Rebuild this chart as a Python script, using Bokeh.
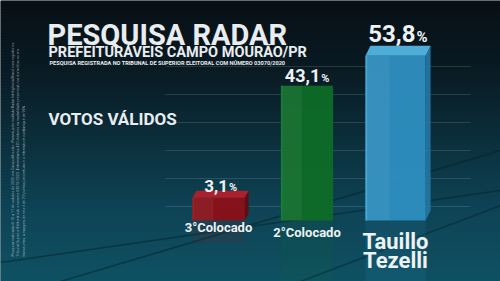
import numpy as np
from bokeh.plotting import figure
from bokeh.models import Range1d, Label, ColumnDataSource
from bokeh.core.properties import value
from bokeh.embed import file_html
from bokeh.resources import INLINE

# ---------------- data ----------------
candidates = ["3°Colocado", "2°Colocado", "Tauillo\nTezelli"]
votos = [3.1, 43.1, 53.8]
grid_values = [0, 10, 20, 30, 40, 50]
title = "PESQUISA RADAR"
subtitle = "PREFEITURÁVEIS CAMPO MOURÃO/PR"
note = "PESQUISA REGISTRADA NO TRIBUNAL DE SUPERIOR ELEITORAL COM NÚMERO 03070/2020"
section = "VOTOS VÁLIDOS"
fine_print = [
    "Pesquisa realizada de 10 a 11 de outubro de 2020 em Campo Mourão - Paraná, pelo instituto Radar Inteligência Brasil, com registro no",
    "Tribunal Superior Eleitoral sob o número 03070/2020. Entrevistados 420 eleitores na modalidade presencial, nos domicílios ou em",
    "transeuntes, a margem de erro é de 3,9 pontos percentuais e o intervalo de confiança é de 95%.",
]

# ---------------- styles ----------------
front_colors = ["#8c1017", "#0e6d27", "#2e8fc1"]
top_colors = ["#b3202a", "#15873a", "#52b6e2"]
side_colors = ["#650a0f", "#0a5a1e", "#2475a2"]
bar_widths = [0.59, 0.59, 0.68]
depth_px = [(4, 7), (0, 0), (5, 10)]
num_px = [17, 18, 24]
pct_px = [11, 11, 15]
lab_dy = [-5, -10, -12]
cat_sizes = ["13px", "13px", "22px"]
cat_offsets = [-1, 4, 8]

W, H = 500, 281
X0, DX = 218.0, 88.5     # pixel of first bar centre, pixels per category
Y0, SY = 220.0, 2.8      # pixel of bar base, pixels per percentage point
PED = 5.0                # pedestal under zero


def px_to_y(py):
    return (Y0 - py) / SY - PED


def px_to_x(px):
    return (px - X0) / DX


p = figure(width=W, height=H, x_range=Range1d(px_to_x(0), px_to_x(W)),
           y_range=Range1d(px_to_y(H), px_to_y(0)), min_border=0,
           toolbar_location=None, output_backend="svg",
           x_axis_type=None, y_axis_type=None)
p.grid.visible = False
p.outline_line_color = None
p.background_fill_color = "#0b2430"
p.border_fill_color = "#0b2430"

# background vertical gradient
stops = [(0, (8, 16, 22)), (70, (10, 27, 36)), (140, (12, 47, 60)),
         (210, (14, 68, 86)), (281, (15, 82, 100))]
sp = np.array([s[0] for s in stops], float)
sc = np.array([s[1] for s in stops], float)
band = 3
tops, bots, cols = [], [], []
for py in range(0, H, band):
    c = [int(np.interp(py + band / 2, sp, sc[:, k])) for k in range(3)]
    cols.append("#%02x%02x%02x" % tuple(c))
    tops.append(px_to_y(py))
    bots.append(px_to_y(py + band + 0.5))
p.quad(left=px_to_x(0), right=px_to_x(W), top=tops, bottom=bots,
       fill_color=cols, line_color=None)

# faint diagonal floor lines
p.segment(x0=[px_to_x(0), px_to_x(60), px_to_x(300)],
          y0=[px_to_y(262), px_to_y(281), px_to_y(281)],
          x1=[px_to_x(500), px_to_x(500), px_to_x(500)],
          y1=[px_to_y(190), px_to_y(150), px_to_y(205)],
          line_color="#06202a", line_alpha=0.5, line_width=1.5)

# horizontal streak lines
xs0 = px_to_x(165)
xs1 = px_to_x(470)
p.segment(x0=xs0, y0=grid_values, x1=xs1, y1=grid_values,
          line_color="white", line_alpha=0.13, line_width=1)

idx = list(range(len(votos)))
dxd = [d[0] / DX for d in depth_px]
dyd = [d[1] / SY for d in depth_px]

# reflections
p.vbar(x=idx, width=bar_widths, top=-PED,
       bottom=[-PED - (v + PED) for v in votos],
       fill_color=front_colors, fill_alpha=0.12, line_color=None)

# side and top faces
side_xs, side_ys, top_xs, top_ys = [], [], [], []
for i, v in enumerate(votos):
    w = bar_widths[i]
    r = i + w / 2
    l = i - w / 2
    side_xs.append([r, r + dxd[i], r + dxd[i], r])
    side_ys.append([v, v + dyd[i], -PED + dyd[i], -PED])
    top_xs.append([l, l + dxd[i], r + dxd[i], r])
    top_ys.append([v, v + dyd[i], v + dyd[i], v])
p.patches(xs=side_xs, ys=side_ys, fill_color=side_colors, fill_alpha=0.95,
          line_color=None)

src = ColumnDataSource(dict(x=idx, top=votos, w=bar_widths, c=front_colors))
p.vbar(x="x", width="w", top="top", bottom=-PED, fill_color="c",
       fill_alpha=0.95, line_color=None, source=src)
# sheen on left part of the bars
p.vbar(x=[i - bar_widths[i] * 0.3 for i in idx],
       width=[bar_widths[i] * 0.4 for i in idx], top=votos, bottom=-PED,
       fill_color="white", fill_alpha=0.05, line_color=None)
# lighter left edge for glass look
p.vbar(x=[i - bar_widths[i] / 2 + 0.01 for i in idx], width=0.02, top=votos,
       bottom=-PED, fill_color=top_colors, fill_alpha=0.6, line_color=None)

p.patches(xs=top_xs, ys=top_ys, fill_color=top_colors, fill_alpha=0.95,
          line_color=None)

# value labels (number + smaller percent sign, centred together)
nums = [("%.1f" % v).replace(".", ",") for v in votos]
num_w = [num_px[i] * (0.56 * sum(ch.isdigit() for ch in s) + 0.25)
         for i, s in enumerate(nums)]
pct_w = [s * 0.75 for s in pct_px]
lab_x = [i + dxd[i] / 2 for i in idx]
lab_y = [v + dyd[i] for i, v in enumerate(votos)]
p.text(x=lab_x, y=lab_y, text=nums, text_align="right",
       text_baseline="middle",
       x_offset=[(num_w[i] - pct_w[i]) / 2 for i in idx],
       y_offset=lab_dy, text_font=value("Roboto"), text_font_style="bold",
       text_font_size=["%dpx" % s for s in num_px], text_color="#eef2f4")
p.text(x=lab_x, y=lab_y, text=["%"] * 3, text_align="left",
       text_baseline="middle",
       x_offset=[(num_w[i] - pct_w[i]) / 2 + 1 for i in idx],
       y_offset=[lab_dy[i] + 0.36 * (num_px[i] - pct_px[i]) for i in idx],
       text_font=value("Roboto"), text_font_style="bold",
       text_font_size=["%dpx" % s for s in pct_px], text_color="#eef2f4")

# category labels
p.text(x=idx, y=-PED, text=candidates, text_align="center",
       text_baseline="top", y_offset=cat_offsets, text_font=value("Roboto"),
       text_font_style="bold", text_font_size=cat_sizes,
       text_color="#eef2f4", text_line_height=0.78)


# titles (y given as the pixel row of the capitals' centre)
def add_label(txt, x, py, size, color="#e9edef", style="bold"):
    p.add_layout(Label(x=x, y=H - py, x_units="screen", y_units="screen",
                       text=txt, text_font="Roboto", text_font_style=style,
                       text_font_size=size, text_color=color,
                       text_baseline="middle", text_align="left"))


add_label(title, 47, 34, "29px")
add_label(subtitle, 48, 52, "14.5px")
add_label(note, 49, 62, "5.6px")
add_label(section, 48, 118, "17px")

# fine print (vertical)
for k, line in enumerate(fine_print):
    p.add_layout(Label(x=12 + 5.5 * k, y=H - 256, x_units="screen",
                       y_units="screen", text=line, angle=np.pi / 2,
                       text_font="Roboto", text_font_size="3.6px",
                       text_color="#b8c8cc", text_alpha=0.85,
                       text_baseline="middle", text_align="left"))

open("out.html", "w").write(file_html(p, INLINE))
